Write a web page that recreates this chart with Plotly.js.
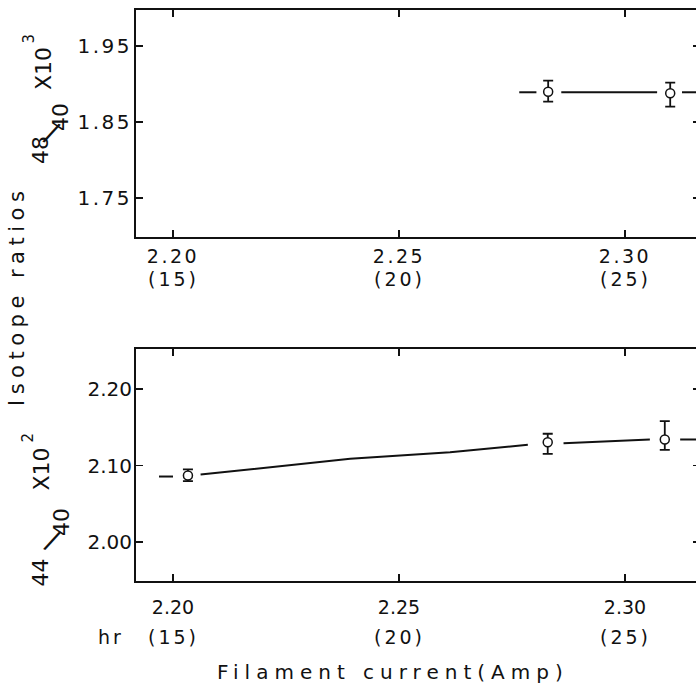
<!DOCTYPE html>
<html>
<head>
<meta charset="utf-8">
<script src="https://cdn.plot.ly/plotly-3.0.1.min.js"></script>
<style>
  html, body { margin: 0; padding: 0; overflow: hidden; background: #fff; }
  #chart { width: 702px; height: 697px; }
  .xtick text, .ytick text { letter-spacing: 2.5px; }
</style>
</head>
<body>
<div id="chart"></div>
<script>
// ---- data ----
const xTickVals = [2.20, 2.25, 2.30];
const xTickText = ['2.20', '2.25', '2.30'];
const hourText = ['(15)', '(20)', '(25)'];

const topTickVals = [1.75, 1.85, 1.95];
const topTickText = ['1.75', '1.85', '1.95'];
const botTickVals = [2.00, 2.10, 2.20];
const botTickText = ['2.00', '2.10', '2.20'];

// 48/40 x 10^3 panel
const topX = [2.2830, 2.3100];
const topY = [1.8899, 1.8878];
const topErrPlus = [0.0144, 0.0140];
const topErrMinus = [0.0132, 0.0177];
const topLineX = [2.2766, 2.2804, null, 2.2859, 2.3071, null, 2.3126, 2.3166];
const topLineY = [1.8891, 1.8891, null, 1.8891, 1.8891, null, 1.8891, 1.8891];

// 44/40 x 10^2 panel
const botX = [2.2033, 2.2829, 2.3088];
const botY = [2.0869, 2.1305, 2.1340];
const botErrPlus = [0.0080, 0.0110, 0.0240];
const botErrMinus = [0.0074, 0.0152, 0.0135];
const botLineX = [2.1969, 2.2000, null, 2.2061, 2.2392, 2.2613, 2.2785, null, 2.2864, 2.3055, null, 2.3122, 2.3166];
const botLineY = [2.0856, 2.0856, null, 2.0882, 2.1088, 2.1174, 2.1271, null, 2.1292, 2.1340, null, 2.1340, 2.1340];

// ---- styling ----
const FONT = 'DejaVu Sans';
const ink = '#111';
const lineStyle = {color: ink, width: 2};
const markerStyle = {symbol: 'circle', size: 9, color: '#fff', line: {color: ink, width: 1.5}};
function errBar(plus, minus) {
  return {type: 'data', symmetric: false, array: plus, arrayminus: minus,
          color: ink, thickness: 1.8, width: 5};
}

const traces = [
  {x: topLineX, y: topLineY, xaxis: 'x', yaxis: 'y', mode: 'lines', line: lineStyle,
   connectgaps: false, hoverinfo: 'skip'},
  {x: topX, y: topY, xaxis: 'x', yaxis: 'y', mode: 'markers', marker: markerStyle,
   error_y: errBar(topErrPlus, topErrMinus)},
  {x: botLineX, y: botLineY, xaxis: 'x2', yaxis: 'y2', mode: 'lines', line: lineStyle,
   connectgaps: false, hoverinfo: 'skip'},
  {x: botX, y: botY, xaxis: 'x2', yaxis: 'y2', mode: 'markers', marker: markerStyle,
   error_y: errBar(botErrPlus, botErrMinus)}
];

const xRange = [2.19181, 2.31659];
function xAxis(anchor, standoff) {
  return {
    anchor: anchor, domain: [0, 1], range: xRange,
    tickmode: 'array', tickvals: xTickVals, ticktext: xTickText,
    ticks: 'inside', ticklen: 7, tickwidth: 1.5, tickcolor: ink,
    showline: true, linewidth: 2, linecolor: ink, mirror: 'ticks',
    showgrid: false, zeroline: false, ticklabelstandoff: standoff,
    tickfont: {family: FONT, size: 19, color: ink}
  };
}
function yAxis(anchor, domain, range, vals, text) {
  return {
    anchor: anchor, domain: domain, range: range,
    tickmode: 'array', tickvals: vals, ticktext: text,
    ticks: 'inside', ticklen: 7, tickwidth: 1.5, tickcolor: ink,
    showline: true, linewidth: 2, linecolor: ink, mirror: 'ticks',
    showgrid: false, zeroline: false, ticklabelstandoff: -2,
    tickfont: {family: FONT, size: 20, color: ink}
  };
}

const annotations = [];
function ann(text, x, y, size, opts) {
  annotations.push(Object.assign({
    text: text, x: x, y: y, xref: 'paper', yref: 'paper',
    xanchor: 'center', yanchor: 'middle', showarrow: false,
    font: {family: FONT, size: size, color: ink}
  }, opts || {}));
}
// second tick-label line (hours)
hourText.forEach((t, i) => {
  ann('<span style="letter-spacing:3px">' + t + '</span>', xTickVals[i], 0.5289, 19, {xref: 'x'});
  ann('<span style="letter-spacing:3px">' + t + '</span>', xTickVals[i], -0.0989, 19, {xref: 'x2'});
});
ann('<span style="letter-spacing:3px">hr</span>', -0.0443, -0.0989, 19);

// axis titles
ann('<span style="letter-spacing:5.5px">Isotope ratios</span>', -0.211, 0.4991, 21, {textangle: -90});
ann('<span style="letter-spacing:6px">Filament current(Amp)</span>', 0.4557, -0.1594, 20);

// panel labels: 48/40 x10^3
ann('X10', -0.164, 0.8976, 22, {textangle: -90});
ann('3', -0.1897, 0.950, 15, {textangle: -90});
ann('40', -0.1348, 0.8126, 22, {textangle: -90});
ann('/', -0.1498, 0.7846, 28, {textangle: 25});
ann('48', -0.1702, 0.7548, 22, {textangle: -90});
// panel labels: 44/40 x10^2
ann('X10', -0.1676, 0.1961, 22, {textangle: -90});
ann('2', -0.1915, 0.2513, 15, {textangle: -90});
ann('40', -0.1330, 0.1033, 22, {textangle: -90});
ann('/', -0.1463, 0.0718, 28, {textangle: 25});
ann('44', -0.1676, 0.0158, 22, {textangle: -90});

const layout = {
  width: 702, height: 697,
  margin: {l: 136, r: 2, t: 10, b: 116},
  paper_bgcolor: '#fff', plot_bgcolor: '#fff',
  showlegend: false,
  font: {family: FONT, size: 20, color: ink},
  xaxis: xAxis('y', 1),
  yaxis: yAxis('x', [0.6025, 1], [1.69868, 1.99737], topTickVals, topTickText),
  xaxis2: xAxis('y2', 8),
  yaxis2: yAxis('x2', [0, 0.4063], [1.94902, 2.2523], botTickVals, botTickText),
  annotations: annotations
};

Plotly.newPlot('chart', traces, layout, {staticPlot: true, displayModeBar: false});
</script>
</body>
</html>
